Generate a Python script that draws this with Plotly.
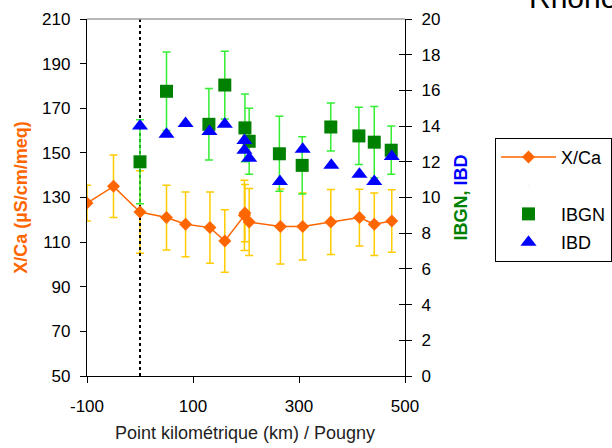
import plotly.graph_objects as go

# ---------------- data ----------------
km_xca = [-100, -50, 0, 50, 86, 132, 160, 197, 198, 206, 265, 307, 360, 414, 442, 475]
xca = [127.5, 135, 123.5, 121, 118, 116.5, 110.5, 122, 123, 119, 117, 117, 119, 121, 118, 119.5]
xca_err = [8, 14, 18.5, 14.5, 14.5, 16, 14, 15.7, 12.8, 15, 16.8, 15, 14.6, 12.7, 14, 14]

km_ibgn = [0, 50, 130, 160, 198, 206, 263, 306, 360, 413, 442, 474]
ibgn = [12.0, 15.95, 14.1, 16.3, 13.9, 13.15, 12.45, 11.8, 13.95, 13.45, 13.1, 12.65]
ibgn_err = [2.35, 2.2, 2.0, 1.9, 1.9, 1.85, 2.1, 1.6, 1.35, 1.6, 2.0, 1.35]

km_ibd = [0, 50, 86, 131, 160, 197, 197, 206, 264, 307, 361, 414, 442, 475]
ibd = [14.0, 13.55, 14.15, 13.7, 14.1, 13.2, 12.65, 12.2, 10.9, 12.7, 11.8, 11.3, 10.9, 12.3]

pougny_km = 0
x_range = [-100, 500]
x_ticks = [-100, 100, 300, 500]
x_ticktext = ["-100", "100", "300", "500"]
left_range = [50, 210]
right_range = [0, 20]

FONT = "'Liberation Sans', Arial, sans-serif"
ORANGE = "#FF6600"
YELLOW = "#FFCC00"
LGREEN = "#33EE33"
DGREEN = "#008000"
BLUE = "#0000FF"

fig = go.Figure()

# error bars (drawn first)
fig.add_trace(go.Scatter(
    x=km_xca, y=xca, mode="markers", marker=dict(size=2, opacity=0),
    error_y=dict(type="data", array=xca_err, color=YELLOW, thickness=1.5, width=4),
    showlegend=False, hoverinfo="skip"))
fig.add_trace(go.Scatter(
    x=km_ibgn, y=ibgn, yaxis="y2", mode="markers", marker=dict(size=2, opacity=0),
    error_y=dict(type="data", array=ibgn_err, color=LGREEN, thickness=1.5, width=4),
    showlegend=False, hoverinfo="skip"))

# vertical dotted line at Pougny
fig.add_trace(go.Scatter(
    x=[pougny_km, pougny_km], y=left_range, mode="lines",
    line=dict(color="black", width=2, dash="dot"),
    showlegend=False, hoverinfo="skip"))

fig.add_trace(go.Scatter(
    x=km_xca, y=xca, name="X/Ca", mode="lines+markers", legendgroup="a",
    line=dict(color=ORANGE, width=1.5),
    marker=dict(symbol="diamond", size=10, color=ORANGE)))
# blank legend spacer
fig.add_trace(go.Scatter(
    x=[None], y=[None], name=" ", mode="markers", legendgroup="b",
    marker=dict(size=1, opacity=0), hoverinfo="skip"))
fig.add_trace(go.Scatter(
    x=km_ibgn, y=ibgn, yaxis="y2", name="IBGN", mode="markers", legendgroup="c",
    marker=dict(symbol="square", size=13, color=DGREEN)))
fig.add_trace(go.Scatter(
    x=km_ibd, y=ibd, yaxis="y2", name="IBD", mode="markers", legendgroup="d",
    marker=dict(symbol="triangle-up", size=14, color=BLUE)))
# invisible trace to carry the inner-tick axis
fig.add_trace(go.Scatter(
    x=[None], y=[None], yaxis="y3", showlegend=False, hoverinfo="skip"))

axis_common = dict(showgrid=False, zeroline=False, showline=True,
                   linecolor="black", linewidth=1.3, tickcolor="black",
                   tickwidth=1.3, ticklen=6,
                   tickfont=dict(family=FONT, size=17, color="black"))

fig.update_layout(
    width=612, height=448,
    margin=dict(l=87, r=207, t=19, b=72, autoexpand=False),
    paper_bgcolor="white", plot_bgcolor="white",
    font=dict(family=FONT, size=17, color="black"),
    xaxis=dict(range=x_range, tickvals=x_ticks, ticktext=x_ticktext,
               ticks="outside", ticklabelstandoff=8, **axis_common),
    yaxis=dict(range=left_range, tick0=50, dtick=20, ticks="outside",
               ticklabelstandoff=6, **axis_common),
    yaxis2=dict(range=right_range, tick0=0, dtick=2, ticks="outside",
                overlaying="y", side="right", anchor="x",
                ticklabelstandoff=6, **axis_common),
    yaxis3=dict(range=right_range, tick0=0, dtick=2, ticks="inside",
                overlaying="y", side="right", anchor="x",
                showticklabels=False, showgrid=False, zeroline=False,
                showline=False, tickcolor="black", tickwidth=1.3, ticklen=6),
    legend=dict(x=1.283, y=0.667, xanchor="left", yanchor="top",
                bordercolor="black", borderwidth=1, bgcolor="white",
                font=dict(family=FONT, size=18, color="black"),
                itemwidth=55, tracegroupgap=2),
    showlegend=True,
    shapes=[dict(type="line", xref="paper", yref="paper", x0=0, x1=1,
                 y0=1, y1=1, line=dict(color="#A0A0A0", width=1.3))],
    annotations=[
        dict(text="<b>X/Ca (µS/cm/meq)</b>", textangle=-90, xref="paper",
             yref="paper", x=-0.21, y=0.5, xanchor="center", yanchor="middle",
             showarrow=False, font=dict(family=FONT, size=18, color=ORANGE)),
        dict(text="<b><span style='color:%s'>IBGN, </span><span style='color:%s'>IBD</span></b>" % (DGREEN, BLUE),
             textangle=-90, xref="paper", yref="paper", x=1.173, y=0.5,
             xanchor="center", yanchor="middle", showarrow=False,
             font=dict(family=FONT, size=18, color=DGREEN)),
        dict(text="Point kilométrique (km) / Pougny", xref="paper",
             yref="paper", x=0.497, y=-0.16, xanchor="center",
             yanchor="middle", showarrow=False,
             font=dict(family=FONT, size=18, color="#222222")),
        dict(text="Rhône", xref="paper", yref="paper", x=1.3836, y=1.0,
             xanchor="left", yanchor="bottom", yshift=3, showarrow=False,
             font=dict(family=FONT, size=30, color="black")),
    ],
)

fig.write_html("out.html",
               config={"displayModeBar": False},
               post_script="document.body.style.margin='0';document.body.style.padding='0';")
